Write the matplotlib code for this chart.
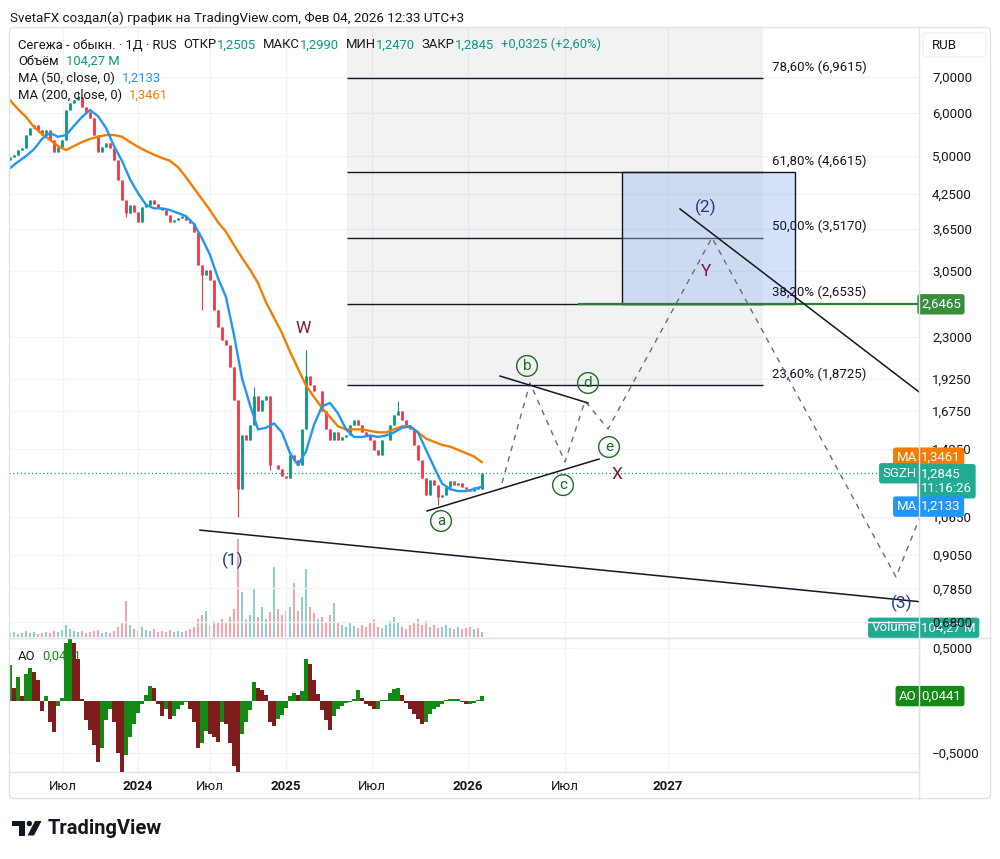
import numpy as np
import matplotlib
matplotlib.use("Agg")
import matplotlib.pyplot as plt
from matplotlib.patches import Rectangle, FancyBboxPatch, Circle, Polygon
from matplotlib.ticker import FixedLocator, FuncFormatter, NullLocator

plt.rcParams['font.family'] = ['Roboto', 'DejaVu Sans']

# ---------------- data ----------------
first_open = 4.90
closes = [4.97, 5.02, 5.12, 5.17, 5.46, 5.63, 5.70, 5.58, 5.46, 5.58,
          5.35, 5.08, 5.19, 5.35, 6.08, 6.25, 6.34, 6.43, 6.16, 6.02,
          5.87, 5.46, 5.08, 5.19, 5.28, 5.17, 4.91, 4.50, 4.14, 3.91,
          4.05, 3.93, 3.76, 4.01, 4.05, 4.14, 4.06, 3.99, 3.96, 3.88,
          3.76, 3.80, 3.83, 3.86, 3.80, 3.75, 3.61, 3.13, 3.00, 3.07,
          2.94, 2.58, 2.40, 2.27, 2.22, 2.02, 1.76, 1.20, 1.51, 1.48,
          1.58, 1.79, 1.68, 1.76, 1.79, 1.33, 1.33, 1.31, 1.27, 1.26,
          1.39, 1.36, 1.33, 1.55, 1.95, 1.87, 1.83, 1.83, 1.68, 1.55,
          1.48, 1.53, 1.48, 1.50, 1.51, 1.58, 1.61, 1.58, 1.53, 1.51,
          1.48, 1.42, 1.39, 1.48, 1.48, 1.58, 1.65, 1.68, 1.61, 1.58,
          1.55, 1.45, 1.36, 1.26, 1.17, 1.25, 1.22, 1.16, 1.17, 1.21,
          1.24, 1.22, 1.23, 1.21, 1.20, 1.19, 1.21, 1.20, 1.2845]
wick_highs = {17: 6.60, 61: 1.86, 74: 2.18, 97: 1.75, 29: 4.10}
wick_lows = {48: 2.58, 57: 1.065, 65: 1.30, 29: 3.85, 107: 1.12}

ma50 = [4.74, 4.87, 4.99, 5.14, 5.37, 5.51, 5.42, 5.46, 5.68, 5.90,
        6.08, 5.92, 5.63, 5.21, 4.89, 4.52, 4.26, 4.05, 3.99, 3.99,
        3.96, 3.91, 3.86, 3.73, 3.51, 3.27, 2.96, 2.73, 2.32, 1.93,
        1.72, 1.55, 1.56, 1.59, 1.53, 1.40, 1.33, 1.41, 1.58, 1.71,
        1.735, 1.66, 1.55, 1.50, 1.50, 1.51, 1.50, 1.51, 1.53, 1.56,
        1.57, 1.53, 1.42, 1.32, 1.23, 1.20, 1.19, 1.19, 1.20, 1.2133]
ma200 = [6.34, 6.10, 5.90, 5.65, 5.48, 5.35, 5.21, 5.12, 5.21, 5.30,
         5.37, 5.42, 5.46, 5.46, 5.42, 5.30, 5.19, 5.10, 5.02, 4.95,
         4.89, 4.76, 4.56, 4.35, 4.15, 3.96, 3.76, 3.61, 3.41, 3.23,
         3.07, 2.90, 2.67, 2.50, 2.34, 2.16, 2.01, 1.87, 1.78, 1.70,
         1.634, 1.57, 1.55, 1.55, 1.55, 1.54, 1.53, 1.53, 1.55, 1.57,
         1.57, 1.53, 1.49, 1.47, 1.45, 1.44, 1.42, 1.40, 1.38, 1.3461]

volume_m = [80, 100, 60, 80, 120, 80, 100, 60, 80, 100,
            80, 120, 100, 140, 240, 160, 120, 100, 120, 80,
            100, 120, 140, 80, 100, 80, 120, 200, 280, 720,
            240, 160, 120, 200, 140, 120, 160, 100, 120, 100,
            140, 100, 120, 100, 120, 160, 200, 360, 440, 520,
            240, 320, 280, 360, 300, 400, 560, 1960, 900, 360,
            440, 960, 400, 600, 360, 500, 1400, 560, 440, 520,
            600, 1080, 520, 800, 1360, 600, 480, 360, 400, 300,
            440, 680, 280, 240, 200, 280, 220, 180, 240, 200,
            280, 360, 200, 180, 240, 320, 400, 280, 200, 160,
            240, 280, 360, 240, 320, 200, 240, 180, 200, 240,
            180, 160, 200, 160, 180, 200, 160, 180, 104.27]

ao = [0.34, 0.12, 0.23, 0.04, 0.25, 0.31, 0.27, 0.20, -0.10, 0.04,
      -0.20, -0.30, -0.05, 0.03, 0.55, 0.60, 0.55, 0.40, 0.02, -0.18,
      -0.28, -0.42, -0.58, -0.45, -0.18, -0.08, -0.20, -0.50, -0.68, -0.52,
      -0.35, -0.22, -0.12, -0.03, 0.05, 0.14, 0.12, -0.03, -0.15, -0.08,
      -0.17, -0.15, -0.08, -0.04, -0.01, -0.08, -0.20, -0.45, -0.40, -0.29,
      -0.32, -0.35, -0.39, -0.20, -0.22, -0.40, -0.62, -0.68, -0.32, -0.20,
      -0.09, 0.18, 0.12, 0.10, 0.05, -0.20, -0.24, -0.17, -0.14, -0.07,
      0.04, 0.07, 0.05, 0.09, 0.40, 0.35, 0.20, 0.06, -0.09, -0.18,
      -0.28, -0.15, -0.08, -0.05, -0.02, -0.01, 0.02, 0.10, 0.03, -0.03,
      -0.05, -0.08, -0.08, 0.01, 0.01, 0.07, 0.11, 0.12, 0.05, -0.02,
      -0.08, -0.13, -0.17, -0.22, -0.20, -0.13, -0.08, -0.06, -0.03, 0.01,
      0.02, 0.02, 0.02, -0.01, -0.03, -0.03, -0.02, 0.01, 0.0441]

price_ticks = [7.0, 6.0, 5.0, 4.25, 3.65, 3.05, 2.3, 1.925, 1.675, 1.425,
               1.065, 0.905, 0.785, 0.68]
ao_ticks = [0.5, -0.5]
time_labels = ["Июл", "2024", "Июл", "2025", "Июл", "2026", "Июл", "2027"]
time_pos = [13.25, 32, 50, 69, 90.5, 114.5, 138.75, 164.5]

fib_pct = [23.6, 38.2, 50.0, 61.8, 78.6]
fib_price = [1.8725, 2.6535, 3.5170, 4.6615, 6.9615]
fib_start, fib_end = 84.25, 188.25

zone_x = (153, 196.25)
zone_price = (2.6535, 4.6615)
level_price = 2.6465
level_start = 142

trend_lines = [((47.5, 1.007), (227.25, 0.7415)),
               ((104.25, 1.093), (147.25, 1.365)),
               ((122.5, 1.947), (144.5, 1.735)),
               ((167.5, 3.98), (227.25, 1.819))]
wave_x = [123, 130, 138.75, 143.75, 149.5, 175.5, 221.5, 229.5]
wave_y = [1.232, 1.89, 1.348, 1.75, 1.553, 3.52, 0.824, 1.16]

wave_labels = [("W", 73.25, 2.39, 'maroon'), ("(1)", 55.75, 0.886, 'navy'),
               ("(2)", 174, 4.01, 'navy'), ("(3)", 223, 0.737, 'navy'),
               ("X", 151.75, 1.275, 'maroon'), ("Y", 174, 3.04, 'maroon')]
circle_labels = [("a", 107.75, 1.047), ("b", 129.25, 2.033), ("c", 138.25, 1.221),
                 ("d", 144.5, 1.890), ("e", 149.75, 1.437)]

last_close, last_ma50, last_ma200, last_vol, last_ao = 1.2845, 1.2133, 1.3461, 104.27, 0.0441

# ---------------- styling ----------------
TEXT = '#131722'
UP = '#089981'
DOWN = '#f23645'
BLUE = '#2196f3'
ORANGE = '#f57c00'
GRID = '#f0f3fa'
BORDER = '#e0e3eb'
AO_UP = '#138a13'
AO_DN = '#7f1d1d'
COLS = {'maroon': '#7b1a2c', 'navy': '#1f3a8a'}
CGREEN = '#1e6b23'

W, H = 1000, 859
fig = plt.figure(figsize=(W / 100, H / 100), dpi=100)
fig.patch.set_facecolor('white')


def box(l, t, r, b):
    return [l / W, 1 - b / H, (r - l) / W, (b - t) / H]


fmt = FuncFormatter(lambda v, p: f"{v:.4f}".replace('.', ',').replace('-', '\u2212'))

ax = fig.add_axes(box(9, 28, 919, 637))
axv = ax.twinx()
ax_ao = fig.add_axes(box(9, 638, 919, 772), sharex=ax)
ax.set_zorder(2)
axv.set_zorder(1)
ax.patch.set_visible(False)
axv.axis('off')

idx = np.arange(len(closes))
ma_idx = np.arange(0, len(closes), 2)

# price axis
ax.set_yscale('log')
ax.set_ylim(0.6374, 8.633)
ax.set_xlim(-0.25, 227.25)
ax.yaxis.set_major_locator(FixedLocator(price_ticks))
ax.yaxis.set_minor_locator(NullLocator())
ax.yaxis.set_major_formatter(fmt)
ax.yaxis.tick_right()
ax.tick_params(axis='y', length=0, pad=9.4, labelsize=9.5, labelcolor=TEXT)
ax.set_xticks(time_pos)
ax.tick_params(axis='x', length=0, labelbottom=False)
ax.grid(True, color=GRID, lw=1)
ax.set_axisbelow(True)
for s in ax.spines.values():
    s.set_visible(False)

# volume
opens = [first_open] + closes[:-1]
vcol = [(0.031, 0.6, 0.506, 0.45) if c >= o else (0.949, 0.212, 0.271, 0.45)
        for o, c in zip(opens, closes)]
axv.set_ylim(0, 12180)
axv.bar(idx, volume_m, width=0.7, color=vcol, linewidth=0)

# fib zone
ax.add_patch(Rectangle((fib_start, fib_price[0]), fib_end - fib_start, 30,
                       facecolor='#808080', alpha=0.1, lw=0, zorder=1))
ax.hlines(fib_price, fib_start, fib_end, color=TEXT, lw=1.0, zorder=3)
for pct, pr in zip(fib_pct, fib_price):
    ax.annotate(f"{pct:.2f}% ({pr:.4f})".replace('.', ','), xy=(fib_end, pr),
                xytext=(6.5, 8), textcoords='offset points', ha='left', va='center',
                fontsize=9.5, color=TEXT, zorder=6)

# target zone
ax.add_patch(Rectangle((zone_x[0], zone_price[0]), zone_x[1] - zone_x[0],
                       zone_price[1] - zone_price[0], facecolor=(0.616, 0.725, 0.937, 0.42),
                       edgecolor=TEXT, lw=1, zorder=4))
ax.hlines(level_price, level_start, 227.25, color='#2e7d32', lw=1.6, zorder=5)

# candles
for i, (o, c) in enumerate(zip(opens, closes)):
    col = UP if c >= o else DOWN
    hi = wick_highs.get(i, max(o, c))
    lo = wick_lows.get(i, min(o, c))
    ax.vlines(i, lo, hi, color=col, lw=0.8, zorder=5)
    ax.vlines(i, min(o, c), max(o, c), color=col, lw=2.0, zorder=5)

ax.plot(ma_idx, ma200, color=ORANGE, lw=1.7, zorder=6, solid_capstyle='round')
ax.plot(ma_idx, ma50, color=BLUE, lw=1.7, zorder=6, solid_capstyle='round')
ax.axhline(last_close, color=UP, lw=0.9, ls=(0, (1, 2)), zorder=4)

for (x0, y0), (x1, y1) in trend_lines:
    ax.plot([x0, x1], [y0, y1], color=TEXT, lw=1.1, zorder=7)
ax.plot(wave_x, wave_y, color='#6a6d78', lw=1.0, ls=(0, (4, 4)), zorder=6)

for t, x, y, c in wave_labels:
    ax.text(x, y, t, color=COLS[c], fontsize=12.5, ha='center', va='center', zorder=8)
for t, x, y in circle_labels:
    ax.text(x, y, t, color=CGREEN, fontsize=11, ha='center', va='center', zorder=8,
            bbox=dict(boxstyle='circle,pad=0.22', fc='none', ec=CGREEN, lw=1))

# AO pane
ao_col = [AO_UP if (i == 0 or ao[i] >= ao[i - 1]) else AO_DN for i in range(len(ao))]
ax_ao.bar(idx, ao, width=1.0, color=ao_col, linewidth=0, zorder=3)
ax_ao.set_ylim(-0.679, 0.597)
ax_ao.yaxis.set_major_locator(FixedLocator(ao_ticks))
ax_ao.yaxis.set_major_formatter(fmt)
ax_ao.yaxis.tick_right()
ax_ao.tick_params(axis='y', length=0, pad=9.4, labelsize=9.5, labelcolor=TEXT)
ax_ao.set_xticks(time_pos, labels=time_labels)
ax_ao.tick_params(axis='x', length=0, pad=5.5, labelsize=9.5, labelcolor=TEXT)
for lab in ax_ao.get_xticklabels():
    if lab.get_text().isdigit():
        lab.set_fontweight('bold')
ax_ao.grid(True, color=GRID, lw=1)
ax_ao.set_axisbelow(True)
for k, s in ax_ao.spines.items():
    s.set_color(BORDER)
    s.set_linewidth(1)
ax_ao.spines['left'].set_visible(False)


# price tags
def tag(axis, yval, text, color, dy_px=0, left=False):
    off = -2 if left else 2
    axis.annotate(text, xy=(1.0, yval), xycoords=axis.get_yaxis_transform(),
                  xytext=(off * 0.72, -dy_px * 0.72), textcoords='offset points',
                  ha='right' if left else 'left', va='center', color='white', fontsize=9.5,
                  linespacing=1.1, annotation_clip=False, zorder=30,
                  bbox=dict(boxstyle='round,pad=0.28,rounding_size=0.2', fc=color, ec='none'))


tag(ax, level_price, "2,6465", '#388e3c')
tag(ax, last_ma200, "1,3461", ORANGE, -4.6)
tag(ax, last_ma200, "MA", ORANGE, -4.6, left=True)
tag(ax, last_close, "1,2845\n11:16:26", '#22ab94', 8)
tag(ax, last_close, "SGZH", '#22ab94', 0, left=True)
tag(ax, last_ma50, "1,2133", BLUE, 20)
tag(ax, last_ma50, "MA", BLUE, 20, left=True)
tag(axv, last_vol, "104,27 M", '#22ab94', -4)
tag(axv, last_vol, "Volume", '#22ab94', -4, left=True)
tag(ax_ao, last_ao, "0,0441", AO_UP)
tag(ax_ao, last_ao, "AO", AO_UP, left=True)

# ---------------- overlay (frame, legend, logo) ----------------
ov = fig.add_axes([0, 0, 1, 1])
ov.set_xlim(0, W)
ov.set_ylim(H, 0)
ov.axis('off')
ov.set_zorder(10)

ov.add_patch(FancyBboxPatch((9.5, 27.5), 981, 771, boxstyle='round,pad=0,rounding_size=4',
                            fc='none', ec=BORDER, lw=1))
ov.plot([919, 919], [27.5, 798.5], color=BORDER, lw=1)
ov.plot([9.5, 990.5], [637.5, 637.5], color=BORDER, lw=1)
ov.add_patch(FancyBboxPatch((923, 33), 63, 24, boxstyle='round,pad=0,rounding_size=4',
                            fc='white', ec='#eef0f4', lw=1))
ov.text(932, 45.5, "RUB", fontsize=9.5, color=TEXT, va='center', ha='left')

ov.text(10, 18, "SvetaFX создал(а) график на TradingView.com, Фев 04, 2026 12:33 UTC+3",
        fontsize=9.6, color=TEXT, va='center', ha='left')


def rainbow(x, y, parts, fs=9.4):
    t = ov.text(x, y, parts[0][0], color=parts[0][1], fontsize=fs, va='center', ha='left')
    for s, c, gap in parts[1:]:
        t = ov.annotate(s, xy=(1, 0), xycoords=t, xytext=(gap * 0.72, 0),
                        textcoords='offset points', va='bottom', ha='left', color=c, fontsize=fs)


rainbow(18, 45, [("Сегежа - обыкн. · 1Д · RUS", TEXT), ("ОТКР", TEXT, 7), ("1,2505", UP, 0),
                 ("МАКС", TEXT, 7), ("1,2990", UP, 0), ("МИН", TEXT, 7), ("1,2470", UP, 0),
                 ("ЗАКР", TEXT, 7), ("1,2845", UP, 0), ("+0,0325 (+2,60%)", UP, 7)])
rainbow(18, 61.7, [("Объём", TEXT), ("104,27 M", UP, 7)])
rainbow(18, 78, [("MA (50, close, 0)", TEXT), ("1,2133", BLUE, 7)])
rainbow(18, 95, [("MA (200, close, 0)", TEXT), ("1,3461", ORANGE, 7)])
rainbow(18, 656.5, [("AO", TEXT), ("0,0441", AO_UP, 7)])

# TradingView logo
ov.add_patch(Rectangle((12, 821), 13, 5, fc='#131722', ec='none'))
ov.add_patch(Rectangle((19, 821), 6, 14.5, fc='#131722', ec='none'))
ov.add_patch(Circle((29.3, 823.5), 2.7, fc='#131722', ec='none'))
ov.add_patch(Polygon([(35, 821), (41.5, 821), (34, 835.5), (27.5, 835.5)], closed=True,
                     fc='#131722', ec='none'))
ov.text(48, 828.5, "TradingView", fontsize=14.5, fontweight='bold', color='#131722',
        va='center', ha='left')

fig.savefig("out.png", dpi=100, facecolor='white')
